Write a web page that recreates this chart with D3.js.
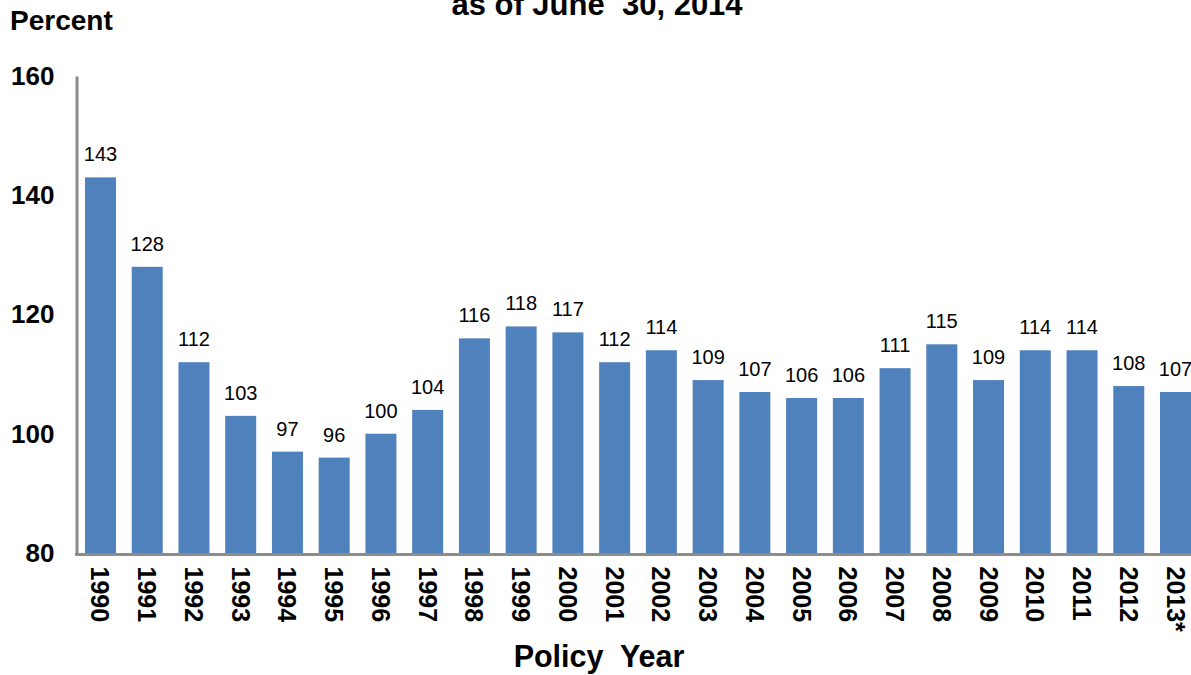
<!DOCTYPE html>
<html>
<head>
<meta charset="utf-8">
<script src="https://cdn.jsdelivr.net/npm/d3@7"></script>
<style>
  html, body { margin: 0; padding: 0; background: #fff; }
  svg { display: block; font-family: "Liberation Sans", Arial, sans-serif; }
</style>
</head>
<body>
<svg id="chart" width="1191" height="675"></svg>
<script>
// Combined ratio by policy year, evaluated as of June 30, 2014
const years = ["1990","1991","1992","1993","1994","1995","1996","1997","1998","1999",
               "2000","2001","2002","2003","2004","2005","2006","2007","2008","2009",
               "2010","2011","2012","2013*"];
const ratios = [143,128,112,103,97,96,100,104,116,118,
                117,112,114,109,107,106,106,111,115,109,
                114,114,108,107];
const yTicks = [80,100,120,140,160];

const svg = d3.select("#chart");

const x = d3.scaleBand()
  .domain(years)
  .range([77, 1199])
  .paddingInner(0.337)
  .paddingOuter(0.171);

const y = d3.scaleLinear()
  .domain([80, 160])
  .range([553, 76]);

const data = years.map((yr, i) => ({ year: yr, value: ratios[i] }));

// Bars
svg.append("g")
  .selectAll("rect")
  .data(data)
  .join("rect")
  .attr("x", d => x(d.year))
  .attr("y", d => y(d.value))
  .attr("width", x.bandwidth())
  .attr("height", d => y(80) - y(d.value))
  .attr("fill", "#4F81BD");

// Value labels
svg.append("g")
  .selectAll("text")
  .data(data)
  .join("text")
  .attr("x", d => x(d.year) + x.bandwidth() / 2)
  .attr("y", d => y(d.value) - 16)
  .attr("text-anchor", "middle")
  .attr("font-size", 20)
  .attr("fill", "#000")
  .text(d => d.value);

// Y axis
const yAxis = svg.append("g")
  .attr("transform", "translate(76.5,0)")
  .call(d3.axisLeft(y).tickValues(yTicks).tickSize(0).tickPadding(22));
yAxis.select(".domain").attr("stroke", "#8c8c8c").attr("stroke-width", 3);
yAxis.selectAll("text")
  .attr("font-size", 26)
  .attr("font-weight", "bold")
  .attr("font-family", "Liberation Sans, Arial, sans-serif")
  .attr("fill", "#000");

// X axis
const xAxis = svg.append("g")
  .attr("transform", "translate(0,554.5)")
  .call(d3.axisBottom(x).tickSize(0).tickPadding(0));
xAxis.select(".domain")
  .attr("d", `M75,0H${1191}`)
  .attr("stroke", "#8c8c8c")
  .attr("stroke-width", 3);
xAxis.selectAll(".tick text")
  .attr("transform", "rotate(90)")
  .attr("x", 12)
  .attr("y", 0)
  .attr("dy", "0.36em")
  .attr("text-anchor", "start")
  .attr("font-size", 25)
  .attr("font-weight", "bold")
  .attr("font-family", "Liberation Sans, Arial, sans-serif")
  .attr("fill", "#000");

// Axis titles
svg.append("text")
  .attr("x", 10)
  .attr("y", 30)
  .attr("font-size", 28)
  .attr("font-weight", "bold")
  .text("Percent");

svg.append("text")
  .attr("x", 599)
  .attr("y", 667)
  .attr("text-anchor", "middle")
  .attr("font-size", 30.5)
  .attr("font-weight", "bold")
  .style("white-space", "pre")
  .text("Policy  Year");

// Chart title (second line)
svg.append("text")
  .attr("x", 597)
  .attr("y", 15)
  .attr("text-anchor", "middle")
  .attr("font-size", 31)
  .attr("font-weight", "bold")
  .style("white-space", "pre")
  .text("as of June  30, 2014");
</script>
</body>
</html>
